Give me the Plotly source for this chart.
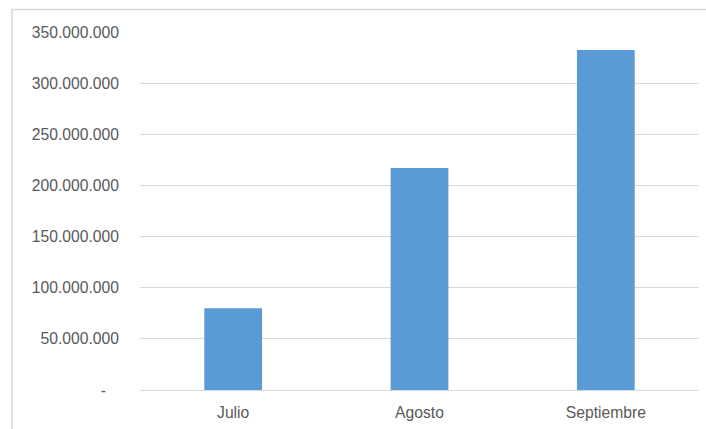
import plotly.graph_objects as go

categories = ["Julio", "Agosto", "Septiembre"]
values = [80_000_000, 217_000_000, 332_500_000]
tick_values = [0, 50_000_000, 100_000_000, 150_000_000, 200_000_000, 250_000_000, 300_000_000, 350_000_000]
tick_labels = ["-   ", "50.000.000", "100.000.000", "150.000.000", "200.000.000", "250.000.000", "300.000.000", "350.000.000"]

W, H = 706, 429
L, R, T, B = 140, 7, 32, 39
pw = W - L - R
ph = H - T - B

fig = go.Figure(go.Bar(x=categories, y=values, marker=dict(color="#5b9bd5", line=dict(width=0)), width=0.31))

font = dict(family="Liberation Sans, Arial, sans-serif", size=15.7, color="#595959")

fig.update_layout(
    width=W, height=H,
    margin=dict(l=L, r=R, t=T, b=B),
    paper_bgcolor="white", plot_bgcolor="white",
    showlegend=False,
    font=font,
    xaxis=dict(showgrid=False, showline=True, linecolor="#d9d9d9", linewidth=1,
               ticks="", tickfont=font, ticklabelstandoff=8, fixedrange=True),
    yaxis=dict(range=[0, 350_000_000], tickmode="array", tickvals=tick_values, ticktext=tick_labels,
               showgrid=True, gridcolor="#d9d9d9", gridwidth=1, zeroline=False, showline=False,
               ticks="", tickfont=font, ticklabelstandoff=20, fixedrange=True),
    shapes=[dict(type="rect", xref="paper", yref="paper",
                 x0=(12 - L) / pw, x1=(W + 5 - L) / pw,
                 y0=-(H + 5 - (T + ph)) / ph, y1=(T + ph - 9.5) / ph,
                 line=dict(color="#d9d9d9", width=1.5), fillcolor="rgba(0,0,0,0)", layer="below")],
)

fig.write_html("out.html", config={"displayModeBar": False},
               post_script="document.body.style.margin='0';document.body.style.overflow='hidden';")
